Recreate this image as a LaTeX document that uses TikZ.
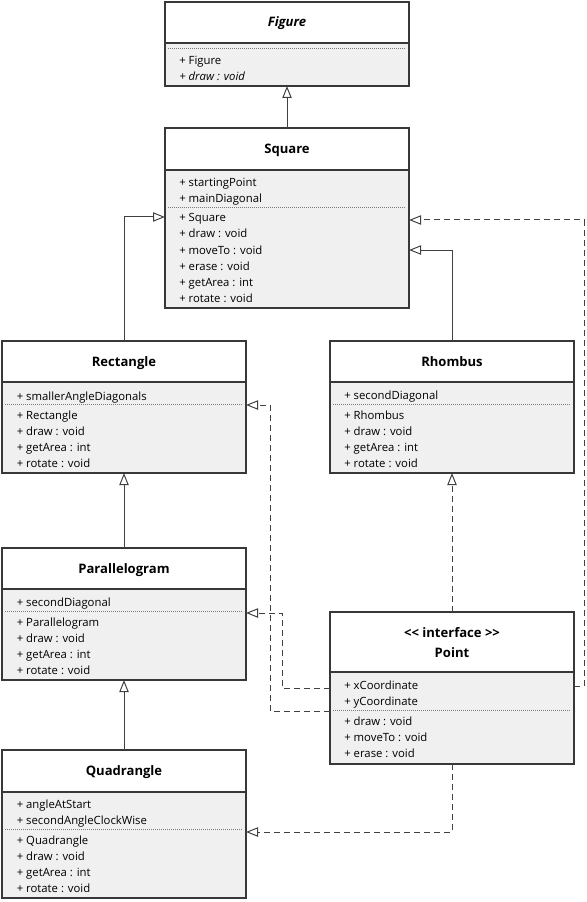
\documentclass[tikz,border=0pt]{standalone}
\usepackage{fontspec}
\setmainfont{Open Sans}
\usetikzlibrary{arrows.meta,calc}
\definecolor{bodyfill}{HTML}{F0F0F0}
\definecolor{framecol}{HTML}{383838}
\definecolor{linkcol}{HTML}{404040}
\definecolor{sepcol}{HTML}{7A7A7A}
\tikzset{
  frame/.style={draw=framecol, line width=0.8pt},
  sepline/.style={draw=sepcol, line width=0.6pt, dash pattern=on 0.75pt off 0.75pt},
  member/.style={anchor=base west, inner sep=0pt, font=\fontsize{8.5}{10}\selectfont},
  title/.style={anchor=base, inner sep=0pt, font=\fontsize{9.8}{11}\selectfont\bfseries},
  inherit/.style={draw=linkcol, line width=0.75pt, -{Triangle[open, length=9pt, width=7pt]}},
  realize/.style={inherit, dash pattern=on 4.5pt off 3pt},
}
% class box: name, left, top, right, bottom, header bottom
\newcommand\umlclass[6]{%
  \node[inner sep=0pt, outer sep=0pt, anchor=north west,
        minimum width={(#4-#2)*0.75pt}, minimum height={(#5-#3)*0.75pt},
        fill=bodyfill] (#1) at (#2,#3) {};
  \fill[white] (#1.north west) rectangle (#4,#6);
  \draw[frame] (#1.north west) rectangle (#1.south east);
  \draw[frame] (#2,#6) -- (#4,#6);
}
% dotted separator between attributes and operations: left, right, y
\newcommand\umlsep[3]{\draw[sepline] ({#1+3},#3) -- ({#2-4},#3);}
% member lines (baselines 16px apart): name prefix, x, first line centre, list
\newcommand\umlmembers[4]{%
  \foreach \m [count=\i] in {#4}
    \node[member] (#1\i) at ({#2},{#3+5+16*(\i-1)}) {\m};
}
% class title centred on x, with its line centred on y
\newcommand\umltitle[4]{\node[title] (#1) at (#2,{#3+5}) {#4};}
\begin{document}
\begin{tikzpicture}[x=0.75pt, y=-0.75pt]
\useasboundingbox (0,0) rectangle (586,902);

% ---- Figure
\umlclass{figure}{165}{2}{409}{86}{43}
\umltitle{figure-t}{287}{22}{\itshape Figure}
\umlsep{165}{409}{48}
\umlmembers{figure-o}{179}{59.5}{+ Figure, {\itshape + draw : void}}

% ---- Square
\umlclass{square}{165}{128}{409}{308}{170}
\umltitle{square-t}{287}{149}{Square}
\umlmembers{square-a}{179}{182}{+ startingPoint, + mainDiagonal}
\umlsep{165}{409}{207}
\umlmembers{square-o}{179}{217}{+ Square, + draw : void, + moveTo : void, + erase : void, + getArea : int, + rotate : void}

% ---- Rectangle
\umlclass{rect}{2}{341}{246}{473}{382}
\umltitle{rect-t}{124}{361.5}{Rectangle}
\umlmembers{rect-a}{16.5}{395}{+ smallerAngleDiagonals}
\umlsep{2}{246}{404}
\umlmembers{rect-o}{16.5}{414}{+ Rectangle, + draw : void, + getArea : int, + rotate : void}

% ---- Rhombus
\umlclass{rhombus}{330}{341}{574}{473}{382}
\umltitle{rhombus-t}{452}{361.5}{Rhombus}
\umlmembers{rhombus-a}{344}{394.5}{+ secondDiagonal}
\umlsep{330}{574}{404}
\umlmembers{rhombus-o}{344}{414}{+ Rhombus, + draw : void, + getArea : int, + rotate : void}

% ---- Parallelogram
\umlclass{para}{2}{548}{246}{680}{589}
\umltitle{para-t}{124}{568.5}{Parallelogram}
\umlmembers{para-a}{16.5}{601}{+ secondDiagonal}
\umlsep{2}{246}{611}
\umlmembers{para-o}{16.5}{621}{+ Parallelogram, + draw : void, + getArea : int, + rotate : void}

% ---- Point (interface)
\umlclass{point}{330}{612}{574}{764}{672}
\umltitle{point-s}{452}{632}{<{}< interface >{}>}
\umltitle{point-t}{452}{652}{Point}
\umlmembers{point-a}{344}{684}{+ xCoordinate, + yCoordinate}
\umlsep{330}{574}{710}
\umlmembers{point-o}{344}{720}{+ draw : void, + moveTo : void, + erase : void}

% ---- Quadrangle
\umlclass{quad}{2}{750}{246}{898}{792}
\umltitle{quad-t}{124}{770.5}{Quadrangle}
\umlmembers{quad-a}{16.5}{803}{+ angleAtStart, + secondAngleClockWise}
\umlsep{2}{246}{829}
\umlmembers{quad-o}{16.5}{839}{+ Quadrangle, + draw : void, + getArea : int, + rotate : void}

% ---- attachment points on the box edges
\coordinate (sqA) at ($(square.north west)+(0,89)$);
\coordinate (sqB) at ($(square.north east)+(0,122)$);
\coordinate (sqC) at ($(square.north east)+(0,92)$);
\coordinate (ptA) at ($(point.north east)+(0,74)$);
\coordinate (ptB) at ($(point.north west)+(0,99)$);
\coordinate (ptC) at ($(point.north west)+(0,76)$);
\coordinate (rcA) at ($(rect.north east)+(0,64)$);
\coordinate (paA) at ($(para.north east)+(0,65)$);
\coordinate (qdA) at ($(quad.north east)+(0,82)$);

% ---- generalisations
\draw[inherit] (square.north) -- (figure.south);
\draw[inherit] (rect.north) |- (sqA);
\draw[inherit] (rhombus.north) |- (sqB);
\draw[inherit] (para.north) -- (rect.south);
\draw[inherit] (quad.north) -- (para.south);

% ---- realisations of Point
\draw[realize] (point.north) -- (rhombus.south);
\draw[realize] (ptA) -- ++(10,0) |- (sqC);
\draw[realize] (ptB) -- ++(-60,0) |- (rcA);
\draw[realize] (ptC) -- ++(-48,0) |- (paA);
\draw[realize] (point.south) |- (qdA);
\end{tikzpicture}
\end{document}
